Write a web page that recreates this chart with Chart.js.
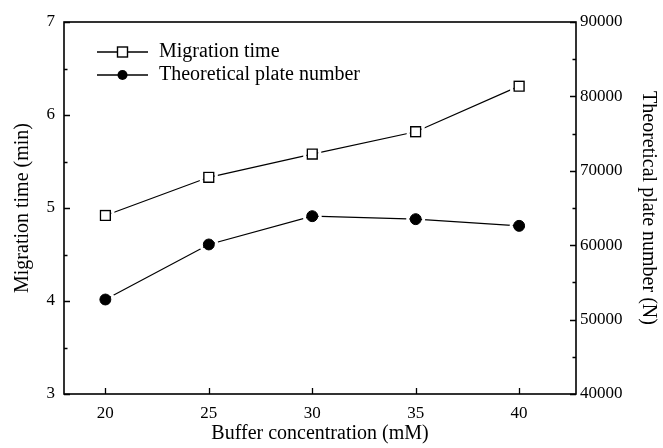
<!DOCTYPE html>
<html>
<head>
<meta charset="utf-8">
<script src="https://cdn.jsdelivr.net/npm/chart.js@4.4.1/dist/chart.umd.min.js"></script>
<style>
    html, body { margin: 0; padding: 0; background: #fff; }
    #wrap { width: 663px; height: 448px; }
</style>
</head>
<body>
<div id="wrap"><canvas id="chart"></canvas></div>
<script>
// Data
const concentrations = [20, 25, 30, 35, 40];
const migrationTime = [4.92, 5.33, 5.58, 5.82, 6.31];
const plateNumber = [52700, 60100, 63900, 63500, 62600];

const xTicks = [20, 25, 30, 35, 40];
const leftTicks = [3, 4, 5, 6, 7];
const leftMinor = [3.5, 4.5, 5.5, 6.5];
const rightTicks = [40000, 50000, 60000, 70000, 80000, 90000];
const rightMinor = [45000, 55000, 65000, 75000, 85000];

const seriesNames = ['Migration time', 'Theoretical plate number'];

const SERIF = "'Liberation Serif', 'Times New Roman', serif";
Chart.defaults.font.family = SERIF;
Chart.defaults.color = '#000';

function toPoints(xs, ys) {
    return xs.map((x, i) => ({ x: x, y: ys[i] }));
}

// frame, inward ticks, marker halos and the legend
const framePlugin = {
    id: 'frame',
    afterDatasetsDraw(chart) {
        const ctx = chart.ctx;
        const a = chart.chartArea;
        const sx = chart.scales.x, sl = chart.scales.y, sr = chart.scales.y1;
        ctx.save();
        ctx.strokeStyle = '#000';
        ctx.lineWidth = 1.6;
        ctx.strokeRect(a.left, a.top, a.right - a.left, a.bottom - a.top);

        ctx.lineWidth = 1.3;
        ctx.beginPath();
        xTicks.forEach(v => {
            const px = Math.round(sx.getPixelForValue(v)) + 0.5;
            ctx.moveTo(px, a.bottom); ctx.lineTo(px, a.bottom - 6);
        });
        leftTicks.forEach(v => {
            const py = Math.round(sl.getPixelForValue(v)) + 0.5;
            ctx.moveTo(a.left, py); ctx.lineTo(a.left + 6, py);
        });
        leftMinor.forEach(v => {
            const py = Math.round(sl.getPixelForValue(v)) + 0.5;
            ctx.moveTo(a.left, py); ctx.lineTo(a.left + 3.5, py);
        });
        rightTicks.forEach(v => {
            const py = Math.round(sr.getPixelForValue(v)) + 0.5;
            ctx.moveTo(a.right, py); ctx.lineTo(a.right - 6, py);
        });
        rightMinor.forEach(v => {
            const py = Math.round(sr.getPixelForValue(v)) + 0.5;
            ctx.moveTo(a.right, py); ctx.lineTo(a.right - 3.5, py);
        });
        ctx.stroke();

        // white gap between line and markers
        chart.data.datasets.forEach((ds, i) => {
            const meta = chart.getDatasetMeta(i);
            meta.data.forEach(pt => {
                ctx.strokeStyle = '#fff';
                ctx.lineWidth = 3;
                ctx.beginPath();
                if (ds.pointStyle === 'rect') {
                    ctx.rect(pt.x - 7.5, pt.y - 7.5, 15, 15);
                } else {
                    ctx.arc(pt.x, pt.y, ds.pointRadius + 2.5, 0, Math.PI * 2);
                }
                ctx.stroke();
            });
        });

        // legend
        const x0 = a.left + 33, x1 = a.left + 84;
        const rows = [a.top + 30, a.top + 53];
        ctx.font = '20px ' + SERIF;
        ctx.textBaseline = 'middle';
        ctx.fillStyle = '#000';
        rows.forEach((y, i) => {
            ctx.strokeStyle = '#000';
            ctx.lineWidth = 1.3;
            ctx.beginPath();
            ctx.moveTo(x0, y); ctx.lineTo(x1, y);
            ctx.stroke();
            const cx = (x0 + x1) / 2;
            if (i === 0) {
                ctx.fillStyle = '#fff';
                ctx.fillRect(cx - 5, y - 5, 10, 10);
                ctx.lineWidth = 1.4;
                ctx.strokeRect(cx - 5, y - 5, 10, 10);
            } else {
                ctx.fillStyle = '#000';
                ctx.beginPath();
                ctx.arc(cx, y, 5, 0, Math.PI * 2);
                ctx.fill();
            }
            ctx.fillStyle = '#000';
            ctx.fillText(seriesNames[i], x1 + 11, y);
        });
        ctx.restore();
    }
};

const ctx = document.getElementById('chart').getContext('2d');
new Chart(ctx, {
    type: 'line',
    data: {
        datasets: [{
            label: seriesNames[0],
            data: toPoints(concentrations, migrationTime),
            yAxisID: 'y',
            borderColor: '#000',
            borderWidth: 1.2,
            pointStyle: 'rect',
            pointRadius: 7,
            pointBackgroundColor: '#fff',
            pointBorderColor: '#000',
            pointBorderWidth: 1.4,
            tension: 0
        }, {
            label: seriesNames[1],
            data: toPoints(concentrations, plateNumber),
            yAxisID: 'y1',
            borderColor: '#000',
            borderWidth: 1.2,
            pointStyle: 'circle',
            pointRadius: 5.5,
            pointBackgroundColor: '#000',
            pointBorderColor: '#000',
            pointBorderWidth: 1,
            tension: 0
        }]
    },
    options: {
        responsive: true,
        maintainAspectRatio: false,
        animation: false,
        layout: { padding: { top: 22, left: 0, right: 0, bottom: 0 } },
        plugins: {
            legend: { display: false },
            tooltip: { enabled: false }
        },
        scales: {
            x: {
                type: 'linear',
                position: 'bottom',
                min: 18,
                max: 42.75,
                grid: { display: false, drawTicks: false },
                border: { display: false },
                afterBuildTicks: scale => { scale.ticks = xTicks.map(v => ({ value: v })); },
                afterFit: scale => { scale.height = 54; },
                ticks: { font: { size: 17 }, color: '#000', padding: 9, maxRotation: 0 },
                title: {
                    display: true,
                    text: 'Buffer concentration (mM)',
                    font: { size: 20 },
                    color: '#000',
                    padding: { top: 0, bottom: 2 }
                }
            },
            y: {
                position: 'left',
                min: 3,
                max: 7,
                grid: { display: false, drawTicks: false },
                border: { display: false },
                afterBuildTicks: scale => { scale.ticks = leftTicks.map(v => ({ value: v })); },
                afterFit: scale => { scale.width = 64; },
                ticks: { font: { size: 17 }, color: '#000', padding: 9 },
                title: {
                    display: true,
                    text: 'Migration time (min)',
                    font: { size: 20 },
                    color: '#000',
                    padding: { top: 11, bottom: 0 }
                }
            },
            y1: {
                position: 'right',
                min: 40000,
                max: 90000,
                grid: { display: false, drawTicks: false },
                border: { display: false },
                afterBuildTicks: scale => { scale.ticks = rightTicks.map(v => ({ value: v })); },
                afterFit: scale => { scale.width = 87; },
                ticks: { font: { size: 17 }, color: '#000', padding: 4, callback: v => String(v) },
                title: {
                    display: true,
                    text: 'Theoretical plate number (N)',
                    font: { size: 20 },
                    color: '#000',
                    padding: { top: 3, bottom: 0 }
                }
            }
        }
    },
    plugins: [framePlugin]
});
</script>
</body>
</html>
